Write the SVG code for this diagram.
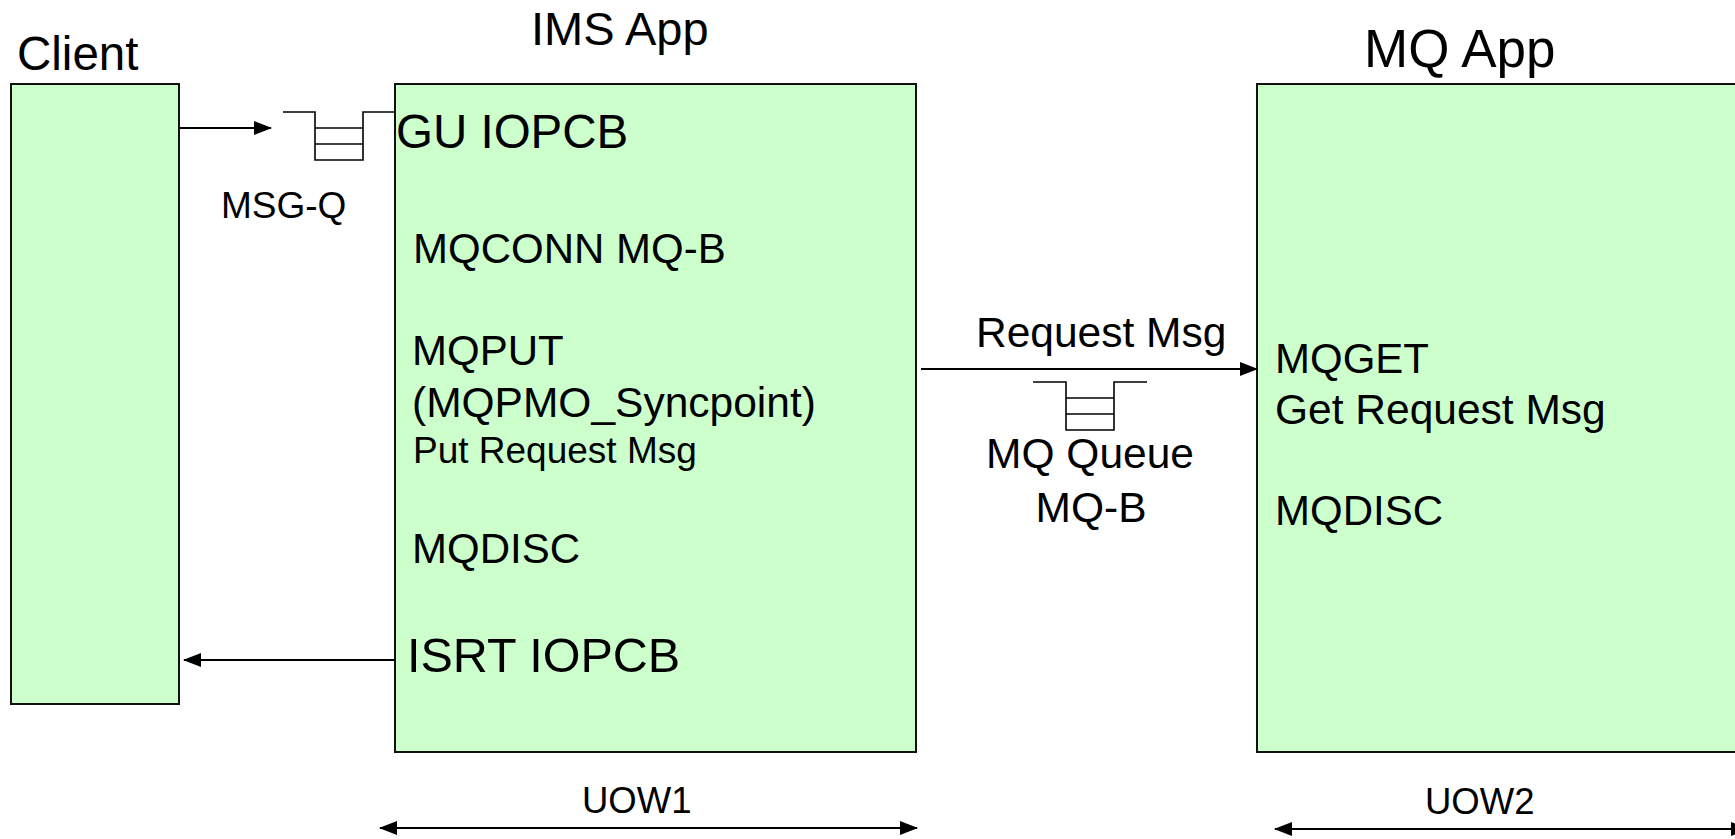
<svg xmlns="http://www.w3.org/2000/svg" width="1735" height="839" viewBox="0 0 1735 839">
<style>
text{font-family:"Liberation Sans",Arial,Helvetica,sans-serif;fill:#000}
.box{fill:#CCFFCC;stroke:#111;stroke-width:2}
.ln{fill:none;stroke:#000;stroke-width:2}
.q{fill:none;stroke:#000;stroke-width:1.6}
</style>
<defs>
<marker id="ah" markerUnits="userSpaceOnUse" markerWidth="18" markerHeight="14" refX="17" refY="7" orient="auto-start-reverse">
<path d="M0,0 L18,7 L0,14 z" fill="#000"/>
</marker>
</defs>
<rect width="1735" height="839" fill="#fff"/>

<g id="client">
<rect class="box" x="11" y="84" width="168" height="620"/>
<text x="17" y="70" font-size="47.5">Client</text>
</g>

<g id="msgq">
<polyline class="q" points="283,112 315,112 315,160 363,160 363,112 395,112"/>
<line class="q" x1="315" y1="128" x2="363" y2="128"/>
<line class="q" x1="315" y1="144" x2="363" y2="144"/>
<text x="221" y="218" font-size="37">MSG-Q</text>
</g>

<g id="ims">
<rect class="box" x="395" y="84" width="521" height="668"/>
<text x="531" y="45" font-size="47">IMS App</text>
<text x="396" y="148" font-size="47.5">GU IOPCB</text>
<text x="413" y="263" font-size="42">MQCONN MQ-B</text>
<text x="412" y="365" font-size="42">MQPUT</text>
<text x="412" y="417" font-size="42.5">(MQPMO_Syncpoint)</text>
<text x="413" y="463" font-size="37">Put Request Msg</text>
<text x="412" y="563" font-size="42">MQDISC</text>
<text x="407" y="672" font-size="48.5">ISRT IOPCB</text>
</g>

<g id="mqqueue">
<polyline class="q" points="1033,382 1066,382 1066,430 1114,430 1114,382 1147,382"/>
<line class="q" x1="1066" y1="398" x2="1114" y2="398"/>
<line class="q" x1="1066" y1="414" x2="1114" y2="414"/>
<text x="1090" y="468" font-size="42.5" text-anchor="middle">MQ Queue</text>
<text x="1091" y="522" font-size="42.5" text-anchor="middle">MQ-B</text>
</g>

<g id="mqapp">
<rect class="box" x="1257" y="84" width="500" height="668"/>
<text x="1364" y="67" font-size="53">MQ App</text>
<text x="1275" y="373" font-size="42">MQGET</text>
<text x="1275" y="424" font-size="42.5">Get Request Msg</text>
<text x="1275" y="525" font-size="42">MQDISC</text>
</g>

<g id="connectors">
<line class="ln" x1="179" y1="128" x2="271" y2="128" marker-end="url(#ah)"/>
<line class="ln" x1="395" y1="660" x2="184" y2="660" marker-end="url(#ah)"/>
<line class="ln" x1="921" y1="369" x2="1257" y2="369" marker-end="url(#ah)"/>
<text x="976" y="347" font-size="42.5">Request Msg</text>
<line class="ln" x1="380" y1="828" x2="917" y2="828" marker-start="url(#ah)" marker-end="url(#ah)"/>
<text x="582" y="813" font-size="36.5">UOW1</text>
<line class="ln" x1="1275" y1="829" x2="1748" y2="829" marker-start="url(#ah)" marker-end="url(#ah)"/>
<text x="1425" y="814" font-size="36.5">UOW2</text>
</g>
</svg>
